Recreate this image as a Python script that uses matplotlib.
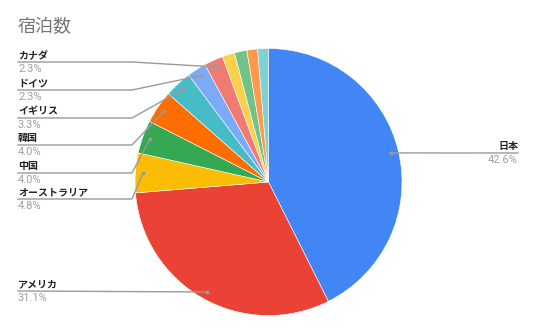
import numpy as np
import matplotlib
matplotlib.use('Agg')
import matplotlib.pyplot as plt

plt.rcParams['font.family'] = ['Noto Sans CJK JP', 'DejaVu Sans']

# data (clockwise from 12 o'clock)
countries = ['日本', 'アメリカ', 'オーストラリア', '中国', '韓国', 'イギリス', 'ドイツ', 'カナダ', '', '', '', '']
shares = [42.6, 31.1, 4.8, 4.0, 4.0, 3.3, 2.3, 2.3, 1.5, 1.5, 1.3, 1.3]
colors = ['#4285F4', '#EA4335', '#FBBC04', '#34A853', '#FF6D01', '#46BDC6',
          '#7BAAF7', '#F07B72', '#FCD04F', '#71C287', '#FF994D', '#7ED1D7']

# label layout (pixel y of the underline)
label_y = {'カナダ': 62, 'ドイツ': 90, 'イギリス': 118, '韓国': 145,
           '中国': 173, 'オーストラリア': 199, 'アメリカ': 291, '日本': 153}

W, H = 536, 331
cx, cy, R = 268.5, 182, 133.5

fig = plt.figure(figsize=(W / 100, H / 100), dpi=100)
ax = fig.add_axes([0, 0, 1, 1])

wedges, _ = ax.pie(shares, colors=colors, startangle=-90, counterclock=True,
                   center=(cx, cy), radius=R,
                   wedgeprops=dict(linewidth=0.4, edgecolor='white'))
ax.set_xlim(0, W)
ax.set_ylim(H, 0)
ax.set_aspect('equal')
ax.axis('off')

line_col = '#9a9a9a'
for w, name, val in zip(wedges, countries, shares):
    if not name:
        continue
    mid = np.deg2rad((w.theta1 + w.theta2) / 2)
    dx = cx + 0.945 * R * np.cos(mid)
    dy = cy + 0.945 * R * np.sin(mid)
    y = label_y[name]
    if name == '日本':
        ax.plot([dx, 518], [dy, y], color=line_col, lw=1)
        tx, ha = 518, 'right'
    elif name == 'アメリカ':
        ax.plot([18, dx], [y, dy], color=line_col, lw=1)
        tx, ha = 18, 'left'
    else:
        ax.plot([18, 132, dx], [y, y, dy], color=line_col, lw=1)
        tx, ha = 18, 'left'
    ax.plot(dx, dy, 'o', color=line_col, ms=2.8, mec='none')
    ax.text(tx, y - 1.5, name, ha=ha, va='bottom', fontsize=7.2,
            color='#222222', fontweight='bold')
    ax.text(tx, y + 2, f'{val:.1f}%', ha=ha, va='top', fontsize=8,
            color='#a0a0a0', family=['Roboto', 'DejaVu Sans'])

ax.text(18, 27, '宿泊数', ha='left', va='center', fontsize=13, color='#757575')

fig.savefig('out.png', dpi=100)
